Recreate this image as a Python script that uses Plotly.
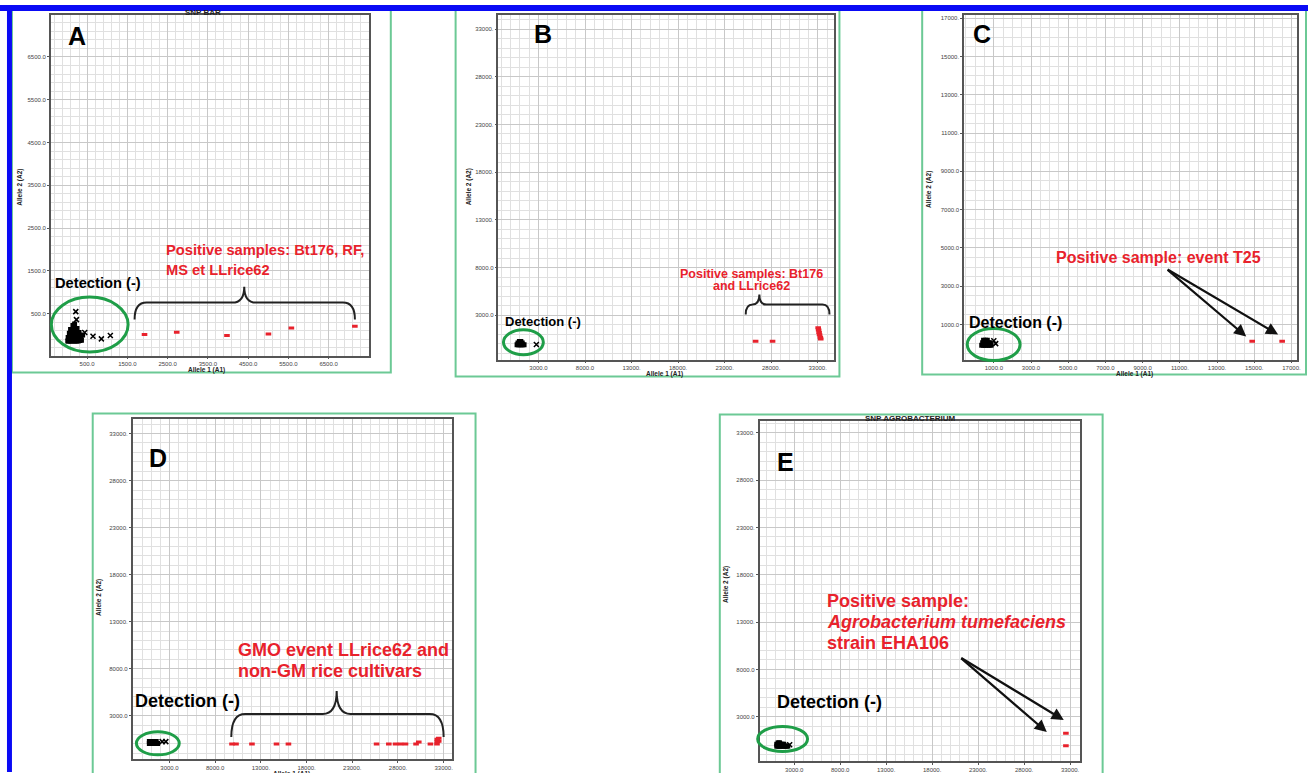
import plotly.graph_objects as go

W, H = 1312, 773

# ---------------- data ----------------
# Panel A (SNP BAR)
a_tick_vals = [500, 1500, 2500, 3500, 4500, 5500, 6500]
a_tick_text = ["500.0", "1500.0", "2500.0", "3500.0", "4500.0", "5500.0", "6500.0"]
a_neg_x = [20, 40, 80, 120, 160, 200, 240, 280, 320, 360, 30, 70, 110, 150, 190, 230, 270, 310, 350, 390,
           60, 100, 140, 180, 220, 260, 300, 90, 130, 170, 210, 250, 150, 190]
a_neg_y = [-140, -140, -140, -140, -140, -140, -140, -140, -130, -120, -60, -60, -60, -60, -60, -60, -60, -40, -20, 0,
           40, 40, 40, 40, 40, 40, 60, 130, 130, 130, 140, 150, 220, 260]
a_negx_x = [219, 236, 442, 647, 855, 1078]
a_negx_y = [547, 360, 57, -30, -90, -13]
a_pos_x = [1927, 2727, 3975, 5005, 5575, 7152]
a_pos_y = [10, 64, -13, 26, 166, 204]

# Panel B
b_tick_vals = [3000, 8000, 13000, 18000, 23000, 28000, 33000]
b_tick_text = ["3000.0", "8000.0", "13000.", "18000.", "23000.", "28000.", "33000."]
b_neg_x = [700, 850, 1000, 1150, 1300, 1450, 800, 950, 1100, 1250, 950, 1100]
b_neg_y = [-100, -100, -100, -100, -100, -100, 100, 100, 100, 100, 250, 250]
b_negx_x = [2770]
b_negx_y = [-70]
b_pos_x = [26330, 28150, 33050, 33100, 33150, 33200, 33280, 33330]
b_pos_y = [276, 276, 1700, 1450, 1200, 950, 700, 500]

# Panel C
c_tick_vals = [1000, 3000, 5000, 7000, 9000, 11000, 13000, 15000, 17000]
c_tick_text = ["1000.0", "3000.0", "5000.0", "7000.0", "9000.0", "11000.", "13000.", "15000.", "17000."]
c_neg_x = [350, 450, 550, 650, 750, 850, 400, 500, 600, 700, 800, 450, 550, 650]
c_neg_y = [-80, -80, -80, -80, -80, -80, 50, 50, 50, 50, 50, 180, 180, 180]
c_negx_x = [1000, 1100]
c_negx_y = [150, 0]
c_pos_x = [14890, 16500]
c_pos_y = [125, 125]

# Panel D
d_tick_vals = [3000, 8000, 13000, 18000, 23000, 28000, 33000]
d_tick_text = ["3000.0", "8000.0", "13000.", "18000.", "23000.", "28000.", "33000."]
d_neg_x = [800, 950, 1100, 1250, 1400, 1550, 1700, 800, 950, 1100, 1250, 1400, 1550]
d_neg_y = [50, 50, 50, 50, 50, 50, 50, 250, 250, 250, 250, 250, 250]
d_negx_x = [2200, 2600]
d_negx_y = [250, 250]
d_pos_x = [9842, 10280, 12025, 14710, 16017, 25660, 27000, 27735, 28280, 28825, 29980, 30277,
           31550, 32270, 32460, 32300, 32460, 32300]
d_pos_y = [0, 0, 0, 0, 0, 0, 0, 0, 0, 0, 0, 200, 0, 0, 300, 500, 600, 250]

# Panel E (SNP AGROBACTERIUM)
e_tick_vals = [3000, 8000, 13000, 18000, 23000, 28000, 33000]
e_tick_text = ["3000.0", "8000.0", "13000.", "18000.", "23000.", "28000.", "33000."]
e_neg_x = [1100, 1250, 1400, 1550, 1700, 1850, 2000, 2150, 2300, 1100, 1250, 1400, 1550, 1700, 1850, 1250, 1400]
e_neg_y = [-100, -100, -100, -100, -100, -100, -100, -100, -100, 100, 100, 100, 100, 100, 100, 250, 250]
e_negx_x = [2500]
e_negx_y = [50]
e_pos_x = [32550, 32550]
e_pos_y = [1250, -56]

# ---------------- helpers ----------------
def px(x):
    return x / W


def py(y):
    return 1 - y / H


RED = "#e8222c"
GREEN = "#1f9e48"
FRAME_GREEN = "#6cc995"
BLUE = "#0a0af5"
SANS = "Liberation Sans, Arial"

panels = [
    dict(n="", dom=(51, 370, 15, 356), xr=[-400, 7500], yr=[-480, 7480],
         tv=a_tick_vals, tt=a_tick_text, xm=dict(tick0=100, dtick=200), ym=dict(tick0=100, dtick=200),
         neg=(a_neg_x, a_neg_y), negx=(a_negx_x, a_negx_y), pos=(a_pos_x, a_pos_y)),
    dict(n="2", dom=(500, 837, 15, 360), xr=[-1300, 34800], yr=[-1640, 34470],
         tv=b_tick_vals, tt=b_tick_text, xm=dict(tick0=0, dtick=1000), ym=dict(tick0=0, dtick=1000),
         neg=(b_neg_x, b_neg_y), negx=(b_negx_x, b_negx_y), pos=(b_pos_x, b_pos_y)),
    dict(n="3", dom=(967, 1301, 15, 360), xr=[-600, 17300], yr=[-830, 17170],
         tv=c_tick_vals, tt=c_tick_text, xm=dict(tick0=0, dtick=500), ym=dict(tick0=0, dtick=500),
         neg=(c_neg_x, c_neg_y), negx=(c_negx_x, c_negx_y), pos=(c_pos_x, c_pos_y)),
    dict(n="4", dom=(133, 453, 420, 760), xr=[-1035, 33870], yr=[-1600, 34500],
         tv=d_tick_vals, tt=d_tick_text, xm=dict(tick0=0, dtick=1000), ym=dict(tick0=0, dtick=1000),
         neg=(d_neg_x, d_neg_y), negx=(d_negx_x, d_negx_y), pos=(d_pos_x, d_pos_y)),
    dict(n="5", dom=(762, 1083, 422, 762), xr=[-760, 34050], yr=[-1670, 34190],
         tv=e_tick_vals, tt=e_tick_text, xm=dict(tick0=0, dtick=1000), ym=dict(tick0=0, dtick=1000),
         neg=(e_neg_x, e_neg_y), negx=(e_negx_x, e_negx_y), pos=(e_pos_x, e_pos_y)),
]

fig = go.Figure()
layout = {}
for p in panels:
    n = p["n"]
    xa, ya = "x" + n, "y" + n
    fig.add_trace(go.Scatter(x=p["neg"][0], y=p["neg"][1], mode="markers", xaxis=xa, yaxis=ya,
                             marker=dict(symbol="square", size=5, color="black"), showlegend=False))
    fig.add_trace(go.Scatter(x=p["negx"][0], y=p["negx"][1], mode="markers", xaxis=xa, yaxis=ya,
                             marker=dict(symbol="x-thin", size=5, color="black",
                                         line=dict(width=1.5, color="black")), showlegend=False))
    fig.add_trace(go.Scatter(x=p["pos"][0], y=p["pos"][1], mode="markers", xaxis=xa, yaxis=ya,
                             marker=dict(symbol="line-ew", size=4, color=RED,
                                         line=dict(width=3, color=RED)), showlegend=False))
    x0, x1, y0, y1 = p["dom"]
    common = dict(showline=True, linecolor="#555", linewidth=1.5, mirror=True,
                  showgrid=True, gridcolor="#c8c8c8", gridwidth=1, zeroline=False,
                  tickmode="array", tickvals=p["tv"], ticktext=p["tt"],
                  ticks="outside", ticklen=2, tickcolor="#555",
                  tickfont=dict(size=6, color="#444", family=SANS))
    layout["xaxis" + n] = dict(domain=[px(x0), px(x1)], range=p["xr"], anchor=ya,
                               minor=dict(showgrid=True, gridcolor="#e0e0e0", gridwidth=1, **p["xm"]),
                               **common)
    layout["yaxis" + n] = dict(domain=[py(y1), py(y0)], range=p["yr"], anchor=xa,
                               minor=dict(showgrid=True, gridcolor="#e0e0e0", gridwidth=1, **p["ym"]),
                               **common)

fig.update_layout(**layout)

shapes = []
# green panel frames
for (l, t, r, b) in [(12, 8, 392, 373), (457, 9, 842, 377), (925, 9, 1310, 375),
                     (93, 414, 477, 790), (722, 415, 1106, 790)]:
    shapes.append(dict(type="rect", xref="paper", yref="paper", x0=px(l), x1=px(r), y0=py(b), y1=py(t),
                       line=dict(color=FRAME_GREEN, width=2), layer="below"))
# blue outer border (top and left)
shapes.append(dict(type="rect", xref="paper", yref="paper", x0=px(0), x1=px(1312), y0=py(11), y1=py(5),
                   fillcolor=BLUE, line=dict(width=0)))
shapes.append(dict(type="rect", xref="paper", yref="paper", x0=px(7), x1=px(12), y0=py(773), y1=py(5),
                   fillcolor=BLUE, line=dict(width=0)))
# green ellipses around negative clusters
for (cx, cy, w, h) in [(90, 325, 77, 55), (525, 342.7, 40, 25), (996.7, 345, 53, 32),
                       (158.3, 744.3, 43, 23), (785, 740, 50, 25)]:
    shapes.append(dict(type="circle", xref="paper", yref="paper",
                       x0=px(cx - w / 2), x1=px(cx + w / 2), y0=py(cy + h / 2), y1=py(cy - h / 2),
                       line=dict(color=GREEN, width=3)))


def brace(x0, x1, xm, ytop, ybase, yend, r=10):
    return (f"M {px(x0)},{py(yend)} Q {px(x0)},{py(ybase)} {px(x0 + r)},{py(ybase)} "
            f"L {px(xm - r)},{py(ybase)} Q {px(xm)},{py(ybase)} {px(xm)},{py(ytop)} "
            f"Q {px(xm)},{py(ybase)} {px(xm + r)},{py(ybase)} "
            f"L {px(x1 - r)},{py(ybase)} Q {px(x1)},{py(ybase)} {px(x1)},{py(yend)}")


for args in [(135, 356, 245, 287, 303, 320, 12), (748, 832, 761.7, 295, 305, 315, 7),
             (232, 445, 337.7, 692, 715, 738, 14)]:
    shapes.append(dict(type="path", xref="paper", yref="paper", path=brace(*args),
                       line=dict(color="#222", width=2)))
fig.update_layout(shapes=shapes)

ann = []


def txt(s, x, y, size, color="black", family=SANS, xanchor="center", angle=0, bold=True):
    ann.append(dict(text=(f"<b>{s}</b>" if bold else s), x=px(x), y=py(y), xref="paper", yref="paper",
                    showarrow=False, xanchor=xanchor, yanchor="middle", textangle=angle,
                    font=dict(size=size, color=color, family=family)))


# panel letters
for s, x, y in [("A", 77, 36), ("B", 545, 34), ("C", 985, 34), ("D", 158, 459), ("E", 788, 463)]:
    txt(s, x, y, 25)
# small titles
txt("SNP BAR", 204, 13, 8, color="#222")
txt("SNP AGROBACTERIUM", 913, 419, 8, color="#222")
# axis titles
for x, y in [(207, 370.5), (667, 374.5), (1138, 374.5), (292, 775)]:
    txt("Allele 1 (A1)", x, y, 6.5, color="#222")
for x, y in [(20, 187), (470, 187), (932, 190), (100, 598), (728, 585)]:
    txt("Allele 2 (A2)", x, y, 6.5, color="#222", angle=-90)

# Detection labels
txt("Detection (-)", 98.5, 283, 14.7)
txt("Detection (-)", 505, 321.7, 13, xanchor="left")
txt("Detection (-)", 970, 322.7, 16, xanchor="left")
txt("Detection (-)", 133, 701.7, 18, xanchor="left")
txt("Detection (-)", 777, 703.3, 18, xanchor="left")

# red labels
txt("Positive samples: Bt176, RF,", 165, 250, 14.7, color=RED, xanchor="left")
txt("MS et LLrice62", 165, 270, 14.7, color=RED, xanchor="left")
txt("Positive samples: Bt176", 754, 274, 12.5, color=RED)
txt("and LLrice62", 754, 286, 12.5, color=RED)
txt("Positive sample: event T25", 1057, 258.3, 16, color=RED, xanchor="left")
txt("GMO event LLrice62 and", 237, 651, 18, color=RED, xanchor="left")
txt("non-GM rice cultivars", 237, 671.7, 18, color=RED, xanchor="left")
txt("Positive sample:", 828, 601.7, 18, color=RED, xanchor="left")
txt("<i>Agrobacterium tumefaciens</i>", 828, 623, 18, color=RED, xanchor="left")
txt("strain EHA106", 828, 644.3, 18, color=RED, xanchor="left")

# arrows
for (tx, ty, hx, hy) in [(1170, 269, 1250, 337), (1170, 269, 1282, 335),
                         (963, 658, 1067, 721), (963, 658, 1050, 733)]:
    ann.append(dict(text="", x=px(hx), y=py(hy), xref="paper", yref="paper", showarrow=True,
                    ax=tx - hx, ay=ty - hy, arrowhead=2, arrowsize=1.1, arrowwidth=2.2,
                    arrowcolor="#111"))

fig.update_layout(annotations=ann)
fig.update_layout(width=W, height=H, margin=dict(l=0, r=0, t=0, b=0),
                  paper_bgcolor="white", plot_bgcolor="white", showlegend=False)

fig.write_html("out.html", config={"displayModeBar": False},
               post_script="document.body.style.margin='0px';document.body.style.overflow='hidden';")
